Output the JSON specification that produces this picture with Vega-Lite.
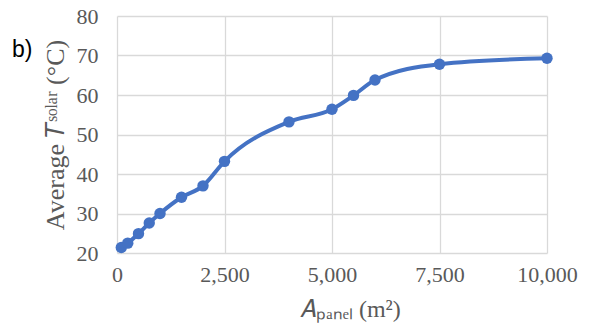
{
  "$schema": "https://vega.github.io/schema/vega-lite/v6.json",
  "width": 430,
  "height": 237,
  "autosize": {"type": "none"},
  "padding": {"left": 117, "top": 16, "right": 43, "bottom": 83},
  "background": "white",
  "title": {
    "text": "b)",
    "anchor": "start",
    "frame": "group",
    "orient": "top",
    "font": "Liberation Sans",
    "fontSize": 23,
    "fontWeight": "normal",
    "color": "#000000",
    "dx": -105,
    "dy": 72,
    "baseline": "middle"
  },
  "data": {
    "values": [
      {"area": 100, "temp": 21.4},
      {"area": 250, "temp": 22.5},
      {"area": 500, "temp": 24.9},
      {"area": 750, "temp": 27.6},
      {"area": 1000, "temp": 30.0},
      {"area": 1500, "temp": 34.1},
      {"area": 2000, "temp": 37.0},
      {"area": 2500, "temp": 43.2},
      {"area": 4000, "temp": 53.2},
      {"area": 5000, "temp": 56.4},
      {"area": 5500, "temp": 59.9},
      {"area": 6000, "temp": 63.8},
      {"area": 7500, "temp": 67.8},
      {"area": 10000, "temp": 69.3}
    ]
  },
  "encoding": {
    "x": {
      "field": "area",
      "type": "quantitative",
      "scale": {"domain": [0, 10000], "nice": false},
      "axis": {
        "values": [0, 2500, 5000, 7500, 10000],
        "format": ",.0f",
        "labelFlush": false,
        "title": "𝐴ₚₐₙₑₗ (m²)",
        "titleX": 233,
        "titlePadding": 12
      }
    },
    "y": {
      "field": "temp",
      "type": "quantitative",
      "scale": {"domain": [20, 80], "nice": false, "zero": false},
      "axis": {
        "values": [20, 30, 40, 50, 60, 70, 80],
        "labelFlush": false,
        "title": "Average 𝑇ˢᵒˡᵃʳ (°C)",
        "titleFontSize": 26,
        "titlePadding": 8
      }
    }
  },
  "layer": [
    {
      "mark": {"type": "line", "interpolate": "monotone", "color": "#4472C4", "strokeWidth": 4}
    },
    {
      "mark": {"type": "point", "filled": true, "opacity": 1, "color": "#4472C4", "size": 130}
    }
  ],
  "config": {
    "view": {"stroke": null},
    "axis": {
      "domain": false,
      "ticks": false,
      "grid": true,
      "gridColor": "#D9D9D9",
      "gridWidth": 1.3,
      "labelFont": "Liberation Serif",
      "labelFontSize": 22,
      "labelColor": "#595959",
      "titleFont": "Liberation Serif",
      "titleFontSize": 24,
      "titleFontWeight": "normal",
      "titleColor": "#595959"
    },
    "axisX": {"labelPadding": 11},
    "axisY": {"labelPadding": 19}
  }
}
